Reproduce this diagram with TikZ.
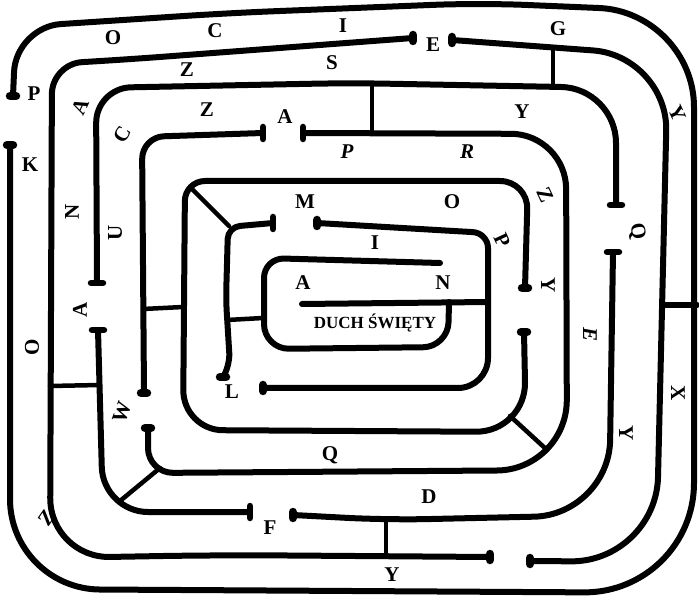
\documentclass[tikz,border=0pt]{standalone}
\usepackage{fontspec}
\setmainfont{Liberation Serif}
\newcommand\mzhT[2]{\draw[tcap,shift={(#1,#2)}] (-6,0) -- (6,0);}
\newcommand\mzvT[2]{\draw[tcap,shift={(#1,#2)}] (0,-6) -- (0,6);}
\newcommand\mzhB[2]{\draw[blob,shift={(#1,#2)}] (-3,0) -- (3,0);}
\newcommand\mzvB[2]{\draw[blob,shift={(#1,#2)}] (0,-3) -- (0,3);}
\begin{document}
\begin{tikzpicture}[x=1pt,y=-1pt,
  wall/.style={line width=6pt, line cap=round, line join=round},
  link/.style={line width=4.5pt, line cap=round},
  tcap/.style={line width=6.5pt, line cap=round},
  blob/.style={line width=8.5pt, line cap=round},
  lbl/.style={font=\bfseries\fontsize{21}{21}\selectfont, inner sep=0pt},
  ilbl/.style={font=\bfseries\itshape\fontsize{21}{21}\selectfont, inner sep=0pt},
]
\useasboundingbox[fill=white] (0,0) rectangle (699,601);

% outermost wall
\draw[wall] (13,96) [rounded corners=45pt] -- (16,27) -- (230,13) -- (480,3) [rounded corners=95pt] -- (694,12) [rounded corners=110pt] -- (694,593) [rounded corners=90pt] -- (10,589) -- (10,145);
% second wall (from E right)
\draw[wall] (452,40) [rounded corners=75pt] -- (668,56) [rounded corners=85pt] -- (656,562) -- (530,561);
% third wall (from E left)
\draw[wall] (413,38) [rounded corners=30pt] -- (133,59) -- (52,64) [rounded corners=60pt] -- (50,558) -- (220,555) -- (490,557);
% wall 4
\draw[wall] (97,283) [rounded corners=35pt] -- (96,88) -- (350,83) [rounded corners=55pt] -- (616,88) -- (616,205);
% wall 5 (D)
\draw[wall] (613,252) [rounded corners=75pt] -- (609,515) [rounded corners=40pt] -- (387,520) -- (293,515);
% wall 6 (F left)
\draw[wall] (98,330) [rounded corners=45pt] -- (103,512) -- (250,512);
% wall 7 (R)
\draw[wall] (303,133) [rounded corners=55pt] -- (566,134) [rounded corners=70pt] -- (567,470) [rounded corners=25pt] -- (148,473) -- (148,428);
% wall 8 (A left)
\draw[wall] (263,133) [rounded corners=22pt] -- (142,137) -- (144,393);
% wall 9 (M ring)
\draw[wall] (525,288) [rounded corners=28pt] -- (528,181) [rounded corners=20pt] -- (185,181) [rounded corners=40pt] -- (183,430) [rounded corners=50pt] -- (526,432) -- (524,332);
% wall 10 (M left)
\draw[wall] (273,223) [rounded corners=12pt] -- (228,227) -- (226,300) -- (230,365) -- (223,377);
% wall 11 (M right to L)
\draw[wall] (317,223) [rounded corners=15pt] -- (488,233) [rounded corners=30pt] -- (488,388) -- (263,388);
% wall 12 (A line)
\draw[wall] (302,304) -- (488,302);
% wall 13 (inner loop)
\draw[wall] (440,263) [rounded corners=20pt] -- (264,258) [rounded corners=25pt] -- (264,349) -- (448,347) -- (449,302);

% junctions
\draw[wall] (662,305) -- (697,305);
\draw[link] (553,48) -- (553,87);
\draw[link] (372,84) -- (372,131);
\draw[link] (386,519) -- (386,554);
\draw[link] (50,386) -- (100,385);
\draw[link] (120,501) -- (160,468);
\draw[link] (510,416) -- (546,449);
\draw[link] (143,309) -- (183,307);
\draw[link] (191,188) -- (229,226);
\draw[link] (227,320) -- (263,318);

% end caps
\mzhB{13}{96}
\mzhB{10}{145}
\mzvB{413}{38}
\mzvB{452}{40}
\mzhT{97}{283}
\mzhT{616}{205}
\mzhT{613}{252}
\mzvB{293}{515}
\mzhT{98}{330}
\mzvT{250}{512}
\mzvT{303}{133}
\mzhB{148}{428}
\mzvT{263}{133}
\mzhB{144}{393}
\mzhB{525}{288}
\mzhB{524}{332}
\mzvT{273}{223}
\mzhB{223}{377}
\mzvB{317}{223}
\mzvB{263}{388}
\mzvB{490}{557}
\mzvB{530}{561}

% labels
\node[lbl] (t1) at (113,38) {O};
\node[lbl] (t2) at (215,31) {C};
\node[lbl] (t3) at (343,26) {I};
\node[lbl] (t4) at (433,45) {E};
\node[lbl] (t5) at (558,29) {G};
\node[lbl] (t6) at (34,94) {P};
\node[lbl] (t7) at (30,165) {K};
\node[lbl] (t8) at (187,70) {Z};
\node[lbl] (t9) at (332,63) {S};
\node[lbl] (t10) at (207,110) {Z};
\node[lbl] (t11) at (285,117) {A};
\node[ilbl] (t12) at (347,152) {P};
\node[ilbl] (t13) at (467,152) {R};
\node[lbl] (t14) at (522,112) {Y};
\node[lbl] (t15) at (305,202) {M};
\node[lbl] (t16) at (452,202) {O};
\node[lbl] (t17) at (375,243) {I};
\node[lbl] (t18) at (303,283) {A};
\node[lbl] (t19) at (443,283) {N};
\node[lbl] (t20) at (232,392) {L};
\node[lbl] (t21) at (330,455) {Q};
\node[lbl] (t22) at (429,497) {D};
\node[lbl] (t23) at (270,528) {F};
\node[lbl] (t24) at (392,575) {Y};
\node[lbl,rotate=65] (t25) at (80,107) {A};
\node[lbl,rotate=60] (t26) at (122,135) {C};
\node[lbl,rotate=90] (t27) at (72,212) {N};
\node[lbl,rotate=90] (t28) at (115,233) {U};
\node[lbl,rotate=90] (t29) at (80,310) {A};
\node[lbl,rotate=90] (t30) at (32,347) {O};
\node[lbl,rotate=70] (t31) at (122,412) {W};
\node[lbl,rotate=55] (t32) at (47,518) {Z};
\node[lbl,rotate=-65] (t33) at (677,113) {Y};
\node[lbl,rotate=-65] (t34) at (545,195) {Z};
\node[lbl,rotate=-65] (t35) at (502,240) {P};
\node[lbl,rotate=-90] (t36) at (548,285) {Y};
\node[lbl,rotate=-80] (t37) at (637,232) {Q};
\node[ilbl,rotate=-90] (t38) at (590,335) {E};
\node[lbl,rotate=-90] (t39) at (678,393) {X};
\node[lbl,rotate=-90] (t40) at (626,433) {Y};
\node[font=\bfseries\fontsize{17}{17}\selectfont, inner sep=0pt] (duch) at (375,323) {DUCH ŚWIĘTY};
\end{tikzpicture}
\end{document}
